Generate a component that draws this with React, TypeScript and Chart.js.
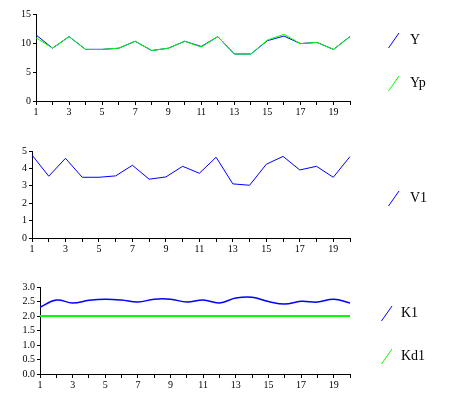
import React, { useEffect, useRef } from "react";
import { Chart, registerables } from "chart.js";

Chart.register(...registerables);

const categories = ["1","2","3","4","5","6","7","8","9","10","11","12","13","14","15","16","17","18","19","20"];
const yValues = [11.4, 9.1, 11.1, 8.9, 8.9, 9.1, 10.3, 8.7, 9.1, 10.3, 9.4, 11.1, 8.1, 8.1, 10.4, 11.2, 9.9, 10.1, 8.9, 11.1];
const ypValues = [10.9, 9.1, 11.1, 8.9, 8.9, 9.1, 10.3, 8.7, 9.1, 10.3, 9.3, 11.1, 8.1, 8.1, 10.5, 11.5, 9.9, 10.1, 8.9, 11.1];
const v1Values = [4.77, 3.55, 4.58, 3.49, 3.49, 3.57, 4.18, 3.38, 3.51, 4.12, 3.72, 4.64, 3.11, 3.03, 4.24, 4.69, 3.91, 4.12, 3.49, 4.68];
const k1Values = [2.3, 2.55, 2.45, 2.54, 2.58, 2.55, 2.48, 2.58, 2.58, 2.48, 2.55, 2.45, 2.62, 2.65, 2.5, 2.41, 2.51, 2.48, 2.58, 2.45];
const kd1Values = [2.0, 2.0, 2.0, 2.0, 2.0, 2.0, 2.0, 2.0, 2.0, 2.0, 2.0, 2.0, 2.0, 2.0, 2.0, 2.0, 2.0, 2.0, 2.0, 2.0];

const SERIF = '"Liberation Serif", "Times New Roman", serif';
const BLUE = "#0000ff";
const GREEN = "#00ff00";

const sideLegend = {
  id: "sideLegend",
  afterDraw(chart: any, _args: any, opts: any) {
    const ctx = chart.ctx;
    ctx.save();
    chart.data.datasets.forEach((ds: any, i: number) => {
      const cy = opts.ys[i];
      if (cy === undefined) return;
      ctx.strokeStyle = ds.borderColor;
      ctx.lineWidth = 1;
      ctx.beginPath();
      ctx.moveTo(opts.symX + 0.5, cy + 8);
      ctx.lineTo(opts.symX + 11, cy - 7);
      ctx.stroke();
      ctx.fillStyle = "#000";
      ctx.font = `14px ${SERIF}`;
      ctx.textBaseline = "middle";
      ctx.textAlign = "left";
      ctx.fillText(ds.label, opts.textX, cy);
    });
    ctx.restore();
  },
};

type Cfg = {
  datasets: any[];
  max: number;
  step: number;
  fixed?: number;
  yWidth: number;
  padTop: number;
  xHeight: number;
  legend: { symX: number; textX: number; ys: number[] };
};

function ChartBox({ cfg, top, height }: { cfg: Cfg; top: number; height: number }) {
  const ref = useRef<HTMLCanvasElement>(null);
  useEffect(() => {
    const chart = new Chart(ref.current as HTMLCanvasElement, {
      type: "line",
      data: { labels: categories, datasets: cfg.datasets },
      options: {
        animation: false,
        responsive: false,
        maintainAspectRatio: false,
        layout: { padding: { left: 0, right: 469 - 350, top: cfg.padTop, bottom: 0 } },
        elements: { point: { radius: 0 } },
        plugins: {
          legend: { display: false },
          tooltip: { enabled: false },
          sideLegend: cfg.legend,
        } as any,
        scales: {
          x: {
            type: "category",
            offset: false,
            grid: { display: true, drawOnChartArea: false, tickLength: 4, color: "#000" },
            border: { color: "#000", width: 1 },
            ticks: {
              autoSkip: false,
              maxRotation: 0,
              padding: 1,
              color: "#000",
              font: { family: SERIF, size: 10 },
              callback: (_v: any, i: number) => (i % 2 === 0 ? categories[i] : ""),
            },
            afterFit: (s: any) => {
              s.height = cfg.xHeight;
            },
          },
          y: {
            min: 0,
            max: cfg.max,
            grid: { display: true, drawOnChartArea: false, tickLength: 3, color: "#000" },
            border: { color: "#000", width: 1 },
            ticks: {
              stepSize: cfg.step,
              autoSkip: false,
              padding: 2,
              color: "#000",
              font: { family: SERIF, size: 10 },
              callback: (v: any) => (cfg.fixed ? Number(v).toFixed(cfg.fixed) : String(v)),
            },
            afterFit: (s: any) => {
              s.width = cfg.yWidth;
            },
          },
        },
      },
      plugins: [sideLegend],
    });
    return () => chart.destroy();
  }, []);
  return (
    <canvas
      ref={ref}
      width={469}
      height={height}
      style={{ position: "absolute", left: 0, top, width: 469, height }}
    />
  );
}

const chart1: Cfg = {
  datasets: [
    { label: "Y", data: yValues, borderColor: BLUE, borderWidth: 1, tension: 0, order: 1 },
    { label: "Yp", data: ypValues, borderColor: GREEN, borderWidth: 1, tension: 0, order: 0 },
  ],
  max: 15,
  step: 5,
  yWidth: 36,
  padTop: 14,
  xHeight: 19,
  legend: { symX: 388, textX: 410, ys: [40, 83] },
};

const chart2: Cfg = {
  datasets: [{ label: "V1", data: v1Values, borderColor: BLUE, borderWidth: 1, tension: 0 }],
  max: 5,
  step: 1,
  yWidth: 32,
  padTop: 11,
  xHeight: 22,
  legend: { symX: 388, textX: 410, ys: [58] },
};

const chart3: Cfg = {
  datasets: [
    { label: "K1", data: k1Values, borderColor: BLUE, borderWidth: 1.5, tension: 0.4 },
    { label: "Kd1", data: kd1Values, borderColor: GREEN, borderWidth: 2, tension: 0 },
  ],
  max: 3,
  step: 0.5,
  fixed: 1,
  yWidth: 40,
  padTop: 22,
  xHeight: 21,
  legend: { symX: 381, textX: 401, ys: [48, 91] },
};

export default function App() {
  return (
    <div style={{ position: "absolute", left: 0, top: 0, width: 469, height: 395, background: "#fff" }}>
      <ChartBox cfg={chart1} top={0} height={120} />
      <ChartBox cfg={chart2} top={140} height={120} />
      <ChartBox cfg={chart3} top={265} height={130} />
    </div>
  );
}
